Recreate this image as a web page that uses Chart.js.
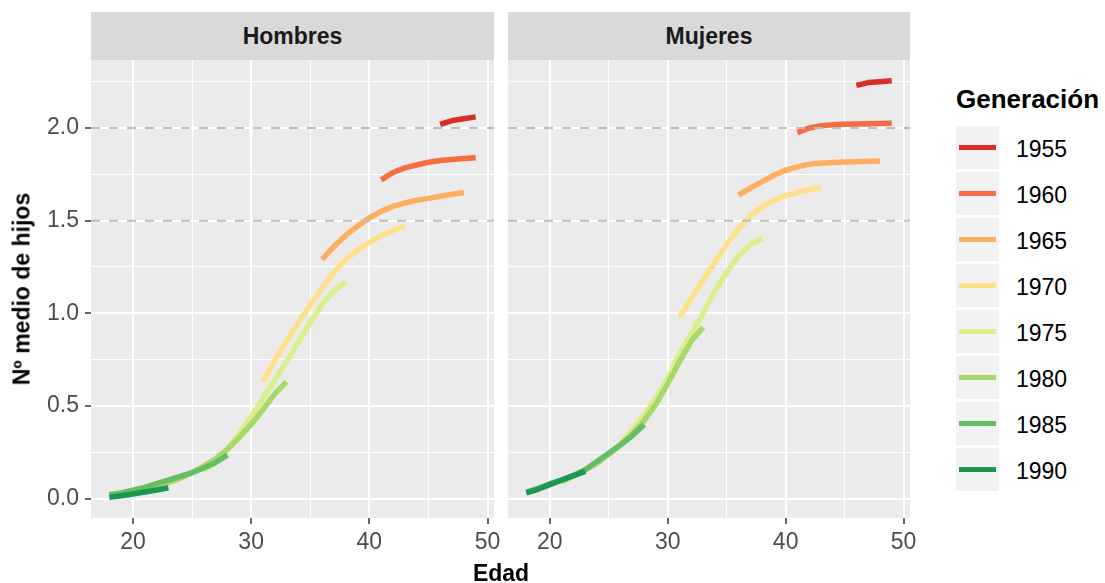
<!DOCTYPE html>
<html><head><meta charset="utf-8">
<script src="https://cdn.jsdelivr.net/npm/chart.js@4"></script>
<style>
body{margin:0;background:#fff;width:1105px;height:583px;position:relative;overflow:hidden;font-family:'Liberation Sans',Arial,sans-serif;}
canvas{position:absolute;top:0;}
.strip{position:absolute;top:12px;height:48px;background:#d9d9d9;color:#1a1a1a;font-weight:bold;font-size:23px;display:flex;align-items:center;justify-content:center;}
.ytitle{position:absolute;left:22px;top:289px;transform:translate(-50%,-50%) rotate(-90deg);font-weight:bold;font-size:23px;white-space:nowrap;color:#000;}
.xtitle{position:absolute;left:501px;top:560px;transform:translateX(-50%);font-weight:bold;font-size:23px;line-height:26px;color:#000;}
.ltitle{position:absolute;left:956px;top:84px;font-weight:bold;font-size:26px;line-height:30px;color:#000;white-space:nowrap;}
.key{position:absolute;left:956px;width:43px;height:43px;background:#f2f2f2;}
.key i{position:absolute;left:3px;right:3px;top:19px;height:5px;display:block;}
.lab{position:absolute;left:1016px;font-size:23px;line-height:26px;color:#000;}
</style></head>
<body>
<canvas id="c1" width="510" height="583" style="left:0px"></canvas>
<canvas id="c2" width="418" height="583" style="left:508px"></canvas>
<div class="strip" style="left:91px;width:403px">Hombres</div>
<div class="strip" style="left:508px;width:402px">Mujeres</div>
<div class="ytitle">Nº medio de hijos</div>
<div class="xtitle">Edad</div>
<div class="ltitle">Generación</div>
<div id="legend"></div>
<script>
// ---- data ----
const cohorts = ['1955','1960','1965','1970','1975','1980','1985','1990'];
const firstAge = [46, 41, 36, 31, 26, 21, 18, 18];

const hombres1955 = [2.02, 2.04, 2.05, 2.06];
const hombres1960 = [1.72, 1.76, 1.785, 1.80, 1.815, 1.825, 1.83, 1.835, 1.84];
const hombres1965 = [1.29, 1.36, 1.42, 1.47, 1.515, 1.55, 1.577, 1.595, 1.61, 1.62, 1.632, 1.642, 1.652];
const hombres1970 = [0.63, 0.745, 0.85, 0.95, 1.045, 1.135, 1.22, 1.29, 1.34, 1.383, 1.418, 1.447, 1.47];
const hombres1975 = [0.15, 0.20, 0.27, 0.35, 0.44, 0.54, 0.64, 0.74, 0.845, 0.95, 1.05, 1.12, 1.17];
const hombres1980 = [0.04, 0.06, 0.085, 0.11, 0.14, 0.175, 0.215, 0.265, 0.33, 0.40, 0.48, 0.565, 0.63];
const hombres1985 = [0.02, 0.03, 0.045, 0.06, 0.08, 0.10, 0.12, 0.14, 0.165, 0.195, 0.235];
const hombres1990 = [0.007, 0.015, 0.025, 0.035, 0.046, 0.058];

const mujeres1955 = [2.23, 2.245, 2.25, 2.255];
const mujeres1960 = [1.975, 2.0, 2.012, 2.017, 2.02, 2.022, 2.023, 2.024, 2.025];
const mujeres1965 = [1.638, 1.675, 1.71, 1.745, 1.772, 1.79, 1.805, 1.81, 1.814, 1.816, 1.818, 1.82, 1.822];
const mujeres1970 = [0.98, 1.08, 1.18, 1.275, 1.37, 1.455, 1.525, 1.575, 1.61, 1.635, 1.653, 1.667, 1.68];
const mujeres1975 = [0.30, 0.37, 0.45, 0.54, 0.65, 0.78, 0.89, 1.0, 1.12, 1.22, 1.31, 1.37, 1.405];
const mujeres1980 = [0.09, 0.12, 0.155, 0.19, 0.24, 0.29, 0.35, 0.42, 0.51, 0.62, 0.74, 0.85, 0.925];
const mujeres1985 = [0.035, 0.055, 0.08, 0.10, 0.125, 0.155, 0.20, 0.245, 0.29, 0.34, 0.40];
const mujeres1990 = [0.03, 0.05, 0.075, 0.10, 0.123, 0.147];

const hombres = [hombres1955, hombres1960, hombres1965, hombres1970, hombres1975, hombres1980, hombres1985, hombres1990];
const mujeres = [mujeres1955, mujeres1960, mujeres1965, mujeres1970, mujeres1975, mujeres1980, mujeres1985, mujeres1990];

const xTickLabels = [20, 30, 40, 50];
const yTickLabels = [0, 0.5, 1.0, 1.5, 2.0];
const refLines = [1.5, 2.0];
const xLimits = [16.45, 50.55];
const yLimits = [-0.105, 2.367];

const palette = ['#d73027','#f46d43','#fdae61','#fee08b','#d9ef8b','#a6d96a','#66bd63','#1a9850'];

// ---- chart ----
Chart.defaults.font.family = "'Liberation Sans', Arial, sans-serif";

const panelBg = {
  id: 'panelBg',
  beforeDraw(chart) {
    const a = chart.chartArea, ctx = chart.ctx;
    ctx.save(); ctx.fillStyle = '#ebebeb';
    ctx.fillRect(a.left, a.top, a.right - a.left, a.bottom - a.top);
    ctx.restore();
  }
};

const isMajorX = v => xTickLabels.some(t => Math.abs(t - v) < 1e-6);
const isMajorY = v => yTickLabels.some(t => Math.abs(t - v) < 1e-6);

function makeChart(id, values, showY) {
  const datasets = [];
  refLines.forEach(v => datasets.push({
    data: [{x: xLimits[0], y: v}, {x: xLimits[1], y: v}],
    borderColor: '#bebebe', borderWidth: 2, borderDash: [9, 9],
    pointRadius: 0, fill: false, order: 0
  }));
  cohorts.forEach((c, i) => datasets.push({
    label: c,
    data: values[i].map((v, k) => ({x: firstAge[i] + k, y: v})),
    borderColor: palette[i], borderWidth: 5.5, pointRadius: 0, fill: false,
    tension: 0, borderCapStyle: 'butt', borderJoinStyle: 'round',
    order: cohorts.length - i
  }));
  return new Chart(document.getElementById(id), {
    type: 'line',
    data: {datasets},
    plugins: [panelBg],
    options: {
      responsive: false, maintainAspectRatio: false, animation: false,
      devicePixelRatio: 1,
      layout: {padding: {top: 60, right: 16, left: 0, bottom: 0}},
      plugins: {legend: {display: false}, tooltip: {enabled: false}},
      scales: {
        x: {
          type: 'linear', min: xLimits[0], max: xLimits[1],
          afterFit: s => { s.height = 65; },
          border: {display: false},
          ticks: {
            stepSize: 5, includeBounds: false, autoSkip: false, maxRotation: 0,
            padding: 5, color: '#4d4d4d', font: {size: 23},
            callback: v => isMajorX(v) ? String(v) : ''
          },
          grid: {
            color: '#ffffff',
            lineWidth: ctx => (ctx.tick && isMajorX(ctx.tick.value)) ? 2 : 1,
            tickColor: ctx => (ctx.tick && isMajorX(ctx.tick.value)) ? '#333333' : 'rgba(0,0,0,0)',
            tickLength: 6, tickWidth: 1.5
          }
        },
        y: {
          type: 'linear', min: yLimits[0], max: yLimits[1],
          afterFit: s => { s.width = showY ? 91 : 0; },
          border: {display: false},
          ticks: {
            display: showY, stepSize: 0.25, includeBounds: false, autoSkip: false,
            padding: 6, color: '#4d4d4d', font: {size: 23},
            callback: v => isMajorY(v) ? v.toFixed(1) : ''
          },
          grid: {
            color: '#ffffff',
            lineWidth: ctx => (ctx.tick && isMajorY(ctx.tick.value)) ? 2 : 1,
            drawTicks: showY,
            tickColor: ctx => (ctx.tick && isMajorY(ctx.tick.value)) ? '#333333' : 'rgba(0,0,0,0)',
            tickLength: 6, tickWidth: 1.5
          }
        }
      }
    }
  });
}

makeChart('c1', hombres, true);
makeChart('c2', mujeres, false);

// ---- legend ----
const lg = document.getElementById('legend');
cohorts.forEach((c, i) => {
  const top = 126 + i * 46;
  const k = document.createElement('div');
  k.className = 'key'; k.style.top = top + 'px';
  const line = document.createElement('i'); line.style.background = palette[i];
  k.appendChild(line); lg.appendChild(k);
  const l = document.createElement('div');
  l.className = 'lab'; l.style.top = (top + 10) + 'px'; l.textContent = c;
  lg.appendChild(l);
});
</script>
</body></html>
